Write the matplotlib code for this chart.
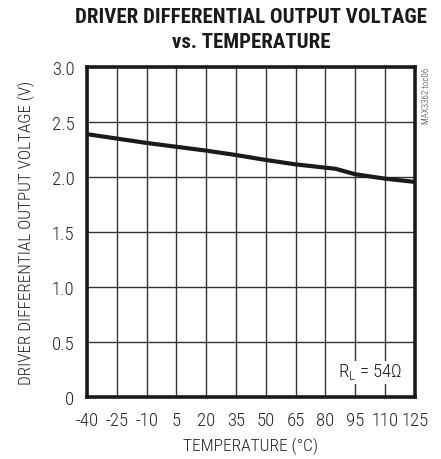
import matplotlib.pyplot as plt
from matplotlib import font_manager

# dane
temperatura = [-40, -25, -10, 5, 20, 35, 50, 65, 80, 85, 95, 110, 125]
napiecie = [2.39, 2.35, 2.31, 2.275, 2.24, 2.20, 2.155, 2.115, 2.085, 2.075, 2.025, 1.985, 1.955]
x_ticks = [-40, -25, -10, 5, 20, 35, 50, 65, 80, 95, 110, 125]
y_ticks = [0, 0.5, 1.0, 1.5, 2.0, 2.5, 3.0]
y_labels = ["0", "0.5", "1.0", "1.5", "2.0", "2.5", "3.0"]

names = {f.name for f in font_manager.fontManager.ttflist}
font = "DejaVu Sans"
for kandydat in ["Roboto Condensed", "Archivo Narrow", "PT Sans Narrow", "Barlow Condensed", "Liberation Sans"]:
    if kandydat in names:
        font = kandydat
        break
plt.rcParams['font.family'] = [font, 'DejaVu Sans']
plt.rcParams['font.weight'] = 'light'
plt.rcParams['mathtext.fontset'] = 'custom'
plt.rcParams['mathtext.rm'] = font + ":light"

fig = plt.figure(figsize=(4.41, 4.6), dpi=100)
ax = fig.add_axes([0.197, 0.135, 0.744, 0.717])

ax.plot(temperatura, napiecie, color="#1a1a1a", lw=3.0, solid_capstyle="butt")

ax.set_xlim(-40, 125)
ax.set_ylim(0, 3.0)
ax.set_xticks(x_ticks)
ax.set_xticklabels([str(t) for t in x_ticks])
ax.set_yticks(y_ticks)
ax.set_yticklabels(y_labels)
ax.grid(True, color="#333333", lw=1.0)
ax.tick_params(length=0, labelsize=13.5, colors="#222222")
ax.tick_params(axis="x", pad=10)
ax.tick_params(axis="y", pad=9)

for s in ax.spines.values():
    s.set_linewidth(2.6)
    s.set_color("#1a1a1a")

ax.set_xlabel("TEMPERATURE (°C)", fontsize=12.5, fontweight="light", color="#222222", labelpad=6)
ax.set_ylabel("DRIVER DIFFERENTIAL OUTPUT VOLTAGE (V)", fontsize=12.3, fontweight="light",
              color="#222222", labelpad=12)

fig.text(0.57, 0.935, "DRIVER DIFFERENTIAL OUTPUT VOLTAGE\nvs. TEMPERATURE",
         ha="center", va="center", fontsize=15, fontweight="bold",
         color="#1a1a1a", linespacing=1.45)

ax.text(0.96, 0.075, r"R$_\mathrm{L}$ = 54Ω", transform=ax.transAxes,
        ha="right", va="center", fontsize=13.5, color="#1a1a1a",
        bbox=dict(facecolor="white", edgecolor="none", pad=1))

fig.text(0.958, 0.852, "MAX3362 toc06", rotation=90, ha="left", va="top",
         fontsize=6.5, color="#333333")

fig.savefig("out.png", dpi=100)
